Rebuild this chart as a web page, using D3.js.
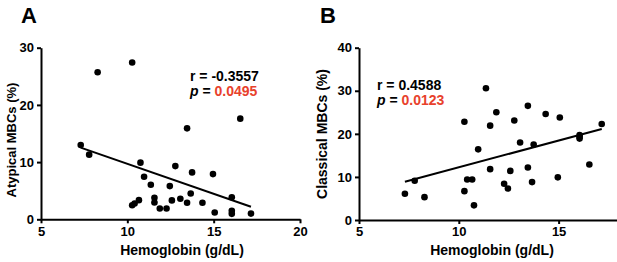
<!DOCTYPE html>
<html lang="en">
<head>
<meta charset="UTF-8">
<title>Hemoglobin vs MBCs</title>
<script src="https://cdn.jsdelivr.net/npm/d3@7/dist/d3.min.js"></script>
<style>
  body { margin: 0; background: #fff; }
  text { font-family: "Liberation Sans", Arial, Helvetica, sans-serif; font-weight: bold; }
</style>
</head>
<body>
<script>
// hemoglobin (g/dL), same patients in both panels
var hemoglobin = [7.30, 7.79, 8.28, 10.28, 10.28, 10.42, 10.67, 10.76, 10.97, 11.36,
                  11.57, 11.57, 11.88, 12.27, 12.46, 12.58, 12.78, 13.07, 13.46, 13.46,
                  13.67, 13.75, 14.35, 14.96, 15.06, 16.05, 16.05, 16.05, 16.54, 17.16];
// panel A: atypical MBCs (%)
var atypical = [13.0, 11.3, 25.7, 27.4, 2.45, 2.75, 3.35, 9.9, 7.45, 6.05,
                3.75, 2.95, 1.9, 1.9, 5.8, 3.3, 9.3, 3.6, 2.9, 15.9,
                4.5, 8.2, 2.9, 7.9, 1.2, 3.85, 1.5, 0.95, 17.6, 1.0];
// panel B: classical MBCs (%)
var classical = [6.1, 9.1, 5.3, 22.8, 6.7, 9.4, 9.4, 3.4, 16.4, 30.6,
                 11.8, 21.9, 25.0, 8.4, 7.3, 11.4, 23.1, 18.0, 26.5, 12.2,
                 8.8, 17.5, 24.6, 9.9, 23.8, 19.7, 18.9, 19.3, 12.9, 22.3];

var xTicksA = [5, 10, 15, 20];
var xTicksB = [5, 10, 15];
var yTicksA = [0, 10, 20, 30];
var yTicksB = [0, 10, 20, 30, 40];
var statsA = ["-0.3557", "0.0495"];
var statsB = ["0.4588", "0.0123"];

var width = 617, height = 262;
var svg = d3.select("body").append("svg")
    .attr("width", width)
    .attr("height", height);

// least squares fit
function fit(xs, ys) {
    var mx = d3.mean(xs), my = d3.mean(ys);
    var sxy = 0, sxx = 0;
    for (var i = 0; i < xs.length; i++) {
        sxy += (xs[i] - mx) * (ys[i] - my);
        sxx += (xs[i] - mx) * (xs[i] - mx);
    }
    var b = sxy / sxx;
    return function (x) { return my + b * (x - mx); };
}

function panel(opt) {
    var x = d3.scaleLinear().domain(opt.xDomain).range(opt.xRange);
    var y = d3.scaleLinear().domain(opt.yDomain).range(opt.yRange);
    var g = svg.append("g");

    var ax = g.append("g")
        .attr("transform", "translate(0," + opt.yRange[0] + ")")
        .call(d3.axisBottom(x).tickValues(opt.xTicks).tickSize(4).tickSizeOuter(0).tickPadding(3));
    var ay = g.append("g")
        .attr("transform", "translate(" + opt.xRange[0] + ",0)")
        .call(d3.axisLeft(y).tickValues(opt.yTicks).tickSize(4).tickSizeOuter(0).tickPadding(3));
    [ax, ay].forEach(function (a) {
        a.select(".domain").attr("stroke", "#000").attr("stroke-width", 2);
        a.selectAll(".tick line").attr("stroke", "#000").attr("stroke-width", 2);
        a.selectAll(".tick text").attr("fill", "#000").style("font-size", "13px");
    });

    // fit line across the data range
    var f = fit(hemoglobin, opt.values);
    var x0 = d3.min(hemoglobin), x1 = d3.max(hemoglobin);
    g.append("line")
        .attr("x1", x(x0)).attr("y1", y(f(x0)))
        .attr("x2", x(x1)).attr("y2", y(f(x1)))
        .attr("stroke", "#000")
        .attr("stroke-width", 2);

    g.selectAll("circle")
        .data(opt.values)
        .enter()
        .append("circle")
        .attr("cx", function (d, i) { return x(hemoglobin[i]); })
        .attr("cy", function (d) { return y(d); })
        .attr("r", 3.3)
        .attr("fill", "#000");

    // axis titles
    g.append("text")
        .attr("x", opt.xTitleX)
        .attr("y", 255)
        .attr("text-anchor", "middle")
        .style("font-size", "14px")
        .text("Hemoglobin (g/dL)");
    g.append("text")
        .attr("transform", "translate(" + opt.yTitleX + "," + opt.yTitleY + ") rotate(-90)")
        .attr("text-anchor", "middle")
        .style("font-size", opt.yTitleSize)
        .text(opt.yTitle);

    // panel letter
    g.append("text")
        .attr("x", opt.letterX)
        .attr("y", 23)
        .style("font-size", "22px")
        .text(opt.letter);

    // stats
    var t1 = g.append("text")
        .attr("x", opt.statX)
        .attr("y", opt.statY)
        .style("font-size", "14px");
    t1.append("tspan").text("r = " + opt.stats[0]);
    var t2 = g.append("text")
        .attr("x", opt.statX)
        .attr("y", opt.statY + 15)
        .style("font-size", "14px");
    t2.append("tspan").style("font-style", "italic").text("p");
    t2.append("tspan").text(" = ");
    t2.append("tspan").attr("fill", "#e8412c").text(opt.stats[1]);
}

panel({
    letter: "A", letterX: 21,
    xDomain: [5, 20], xRange: [41, 300], xTicks: xTicksA, xTitleX: 182,
    yDomain: [0, 30], yRange: [219.3, 47.7], yTicks: yTicksA,
    values: atypical, yTitle: "Atypical MBCs (%)", yTitleX: 16, yTitleY: 140, yTitleSize: "13px",
    stats: statsA, statX: 190, statY: 81
});

panel({
    letter: "B", letterX: 320,
    xDomain: [5, 18], xRange: [359, 618.5], xTicks: xTicksB, xTitleX: 492,
    yDomain: [0, 40], yRange: [220, 47.7], yTicks: yTicksB,
    values: classical, yTitle: "Classical MBCs (%)", yTitleX: 327, yTitleY: 134, yTitleSize: "14px",
    stats: statsB, statX: 377, statY: 90
});
</script>
</body>
</html>
